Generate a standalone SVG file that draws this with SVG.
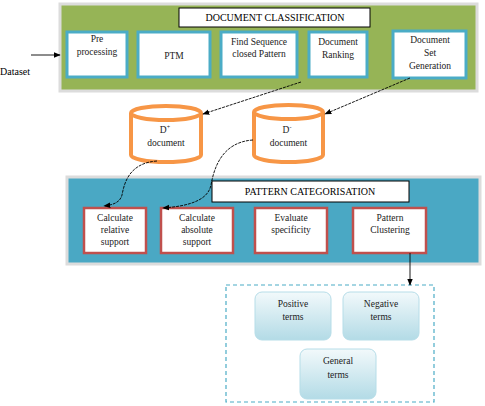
<svg xmlns="http://www.w3.org/2000/svg" width="485" height="406" viewBox="0 0 485 406">
<defs>
<marker id="ah" viewBox="0 0 10 10" refX="9" refY="5" markerWidth="7" markerHeight="7" orient="auto-start-reverse" markerUnits="userSpaceOnUse">
<path d="M0,1 L10,5 L0,9 z" fill="#000"/>
</marker>
<linearGradient id="tg" x1="0" y1="0" x2="0" y2="1">
<stop offset="0" stop-color="#f2f9fb"/>
<stop offset="1" stop-color="#b3dbe6"/>
</linearGradient>
<style>
text{font-family:"Liberation Serif","Times New Roman",serif;font-size:9.5px;fill:#222;text-anchor:middle}
.title{font-size:10px;fill:#000}
.ds{text-anchor:start;font-size:10px;fill:#000}
.panelG{fill:#96b456;stroke:#dcdcdc;stroke-width:3}
.panelB{fill:#4aa8c4;stroke:#dcdcdc;stroke-width:3}
.tbox{fill:#fff;stroke:#000;stroke-width:1}
.wbox{fill:#fff;stroke:#4bacc6;stroke-width:3}
.rbox{fill:#fff;stroke:#c0504d;stroke-width:2.5}
.cyl{fill:#fff;stroke:#f79646;stroke-width:4}
.term{fill:url(#tg);stroke:#b6dde8;stroke-width:1}
.conn{fill:none;stroke:#000;stroke-width:0.9}
.dash{fill:none;stroke:#4bacc6;stroke-width:1.2;stroke-dasharray:4 3}
</style>
</defs>

<g id="doc-classification">
<rect class="panelG" x="60" y="4" width="417" height="87"/>
<rect class="tbox" x="179" y="8" width="191" height="19"/>
<text class="title" x="275" y="21">DOCUMENT CLASSIFICATION</text>
</g>
<g id="preprocessing">
<rect class="wbox" x="67" y="32" width="60" height="45"/>
<text x="97" y="42">Pre</text>
<text x="97" y="55">processing</text>
</g>
<g id="ptm">
<rect class="wbox" x="138" y="32" width="72" height="45"/>
<text x="174" y="59">PTM</text>
</g>
<g id="find-sequence">
<rect class="wbox" x="221" y="32" width="76" height="45"/>
<text x="259" y="45">Find Sequence</text>
<text x="259" y="57">closed Pattern</text>
</g>
<g id="doc-ranking">
<rect class="wbox" x="309" y="32" width="58" height="45"/>
<text x="338" y="45">Document</text>
<text x="338" y="58">Ranking</text>
</g>
<g id="doc-set-gen">
<rect class="wbox" x="393" y="31" width="73" height="47"/>
<text x="430" y="43">Document</text>
<text x="430" y="56">Set</text>
<text x="430" y="69">Generation</text>
</g>

<g id="dataset">
<text class="ds" x="0" y="75">Dataset</text>
</g>

<g id="d-plus">
<path class="cyl" d="M131,113 L131,155 A35,7 0 0 0 201,155 L201,113"/>
<ellipse class="cyl" cx="166" cy="113" rx="35" ry="7"/>
<text x="165" y="133" font-size="10">D<tspan font-size="6" dy="-4">+</tspan></text>
<text x="166" y="146" font-size="10">document</text>
</g>
<g id="d-minus">
<path class="cyl" d="M254,112 L254,155 A34.5,7 0 0 0 323,155 L323,112"/>
<ellipse class="cyl" cx="288.5" cy="112" rx="34.5" ry="7"/>
<text x="287" y="133" font-size="10">D<tspan font-size="6" dy="-4">-</tspan></text>
<text x="288.5" y="146" font-size="10">document</text>
</g>

<g id="pattern-categorisation">
<rect class="panelB" x="67" y="177" width="413" height="87"/>
<rect class="tbox" x="212" y="181" width="197" height="21"/>
<text class="title" x="310" y="195">PATTERN CATEGORISATION</text>
</g>
<g id="calc-relative">
<rect class="rbox" x="84" y="208" width="62" height="45"/>
<text x="115" y="221">Calculate</text>
<text x="115" y="233">relative</text>
<text x="115" y="245">support</text>
</g>
<g id="calc-absolute">
<rect class="rbox" x="161" y="208" width="72" height="45"/>
<text x="197" y="221">Calculate</text>
<text x="197" y="233">absolute</text>
<text x="197" y="245">support</text>
</g>
<g id="evaluate">
<rect class="rbox" x="255" y="208" width="72" height="45"/>
<text x="291" y="221">Evaluate</text>
<text x="291" y="233">specificity</text>
</g>
<g id="pattern-clustering">
<rect class="rbox" x="353" y="208" width="73" height="45"/>
<text x="390" y="221">Pattern</text>
<text x="390" y="233">Clustering</text>
</g>

<g id="terms-group">
<rect class="dash" x="226" y="285" width="208" height="117"/>
</g>
<g id="positive">
<rect class="term" x="255" y="292" width="76" height="48" rx="7"/>
<text x="293" y="307" font-size="9.5">Positive</text>
<text x="293" y="320" font-size="9.5">terms</text>
</g>
<g id="negative">
<rect class="term" x="343" y="292" width="76" height="48" rx="7"/>
<text x="381" y="307" font-size="9.5">Negative</text>
<text x="381" y="320" font-size="9.5">terms</text>
</g>
<g id="general">
<rect class="term" x="300" y="349" width="76" height="50" rx="7"/>
<text x="338" y="364" font-size="9.5">General</text>
<text x="338" y="378" font-size="9.5">terms</text>
</g>

<g id="connectors">
<path class="conn" d="M31,55 L60,55" marker-end="url(#ah)"/>
<path class="conn" d="M301,82 L203,114" stroke-dasharray="3 1" marker-end="url(#ah)"/>
<path class="conn" d="M410,78 L325,114" stroke-dasharray="3 1" marker-end="url(#ah)"/>
<path class="conn" d="M157,161 C128,163 124,185 122,195 C120,203 112,205 104,206" stroke-dasharray="3 1" marker-end="url(#ah)"/>
<path class="conn" d="M253,140 C222,142 214,168 211,185 C208,200 190,206 163,208" stroke-dasharray="3 1" marker-end="url(#ah)"/>
<path class="conn" d="M410,253 L410,285" marker-end="url(#ah)"/>
</g>
</svg>
